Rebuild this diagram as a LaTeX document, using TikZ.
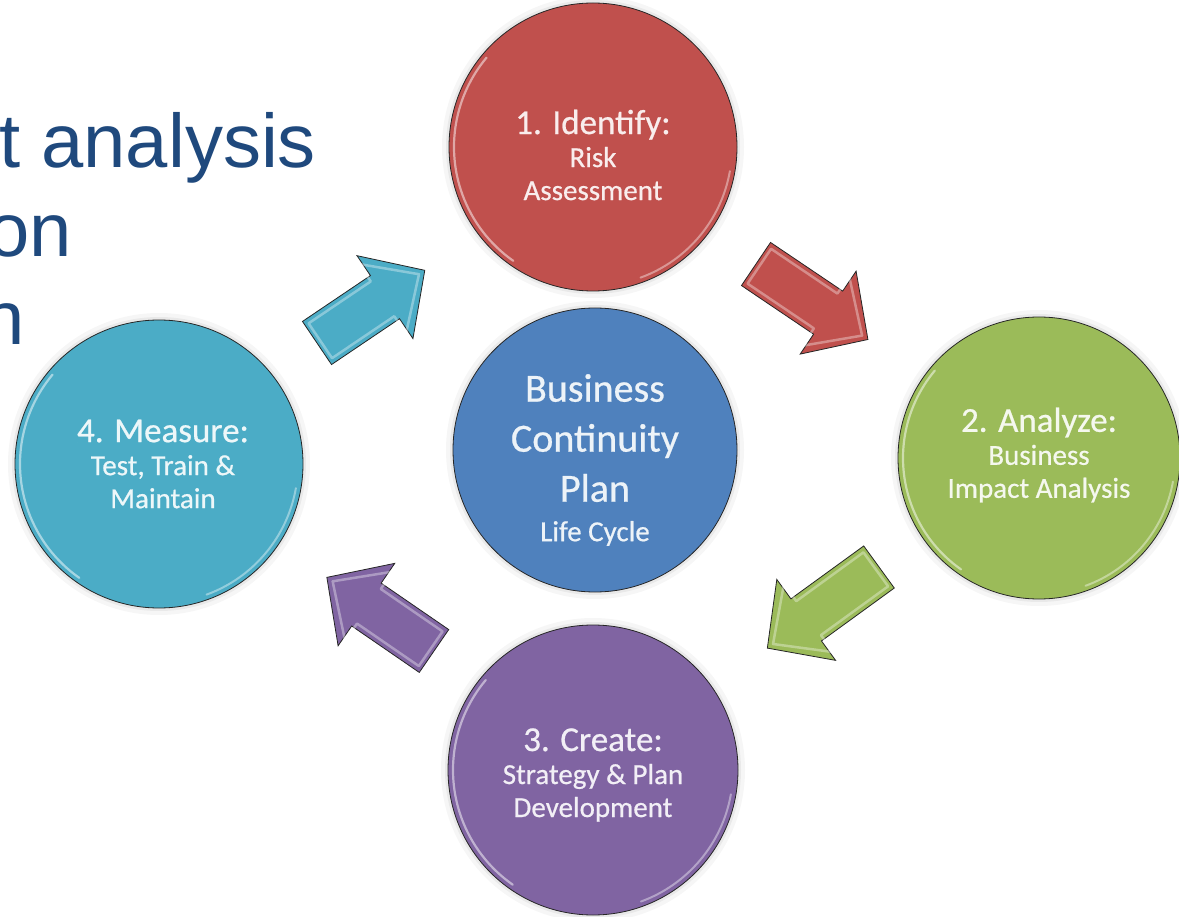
\documentclass[tikz,border=0pt]{standalone}
\usepackage{fontspec}
\setmainfont{Carlito}
\newfontfamily\bubblefont{Carlito}[FakeBold=0.6]
\newfontfamily\arialfont{Liberation Sans}
\definecolor{cred}{HTML}{C0504D}
\definecolor{cgreen}{HTML}{9BBB59}
\definecolor{cpurple}{HTML}{8064A2}
\definecolor{ccyan}{HTML}{4BACC6}
\definecolor{cblue}{HTML}{4F81BD}
\definecolor{titleblue}{HTML}{1F497D}
\newcommand\bubblebevel[2]{%
  \begin{scope}[shift={(#1.center)}, x=1pt, y=1pt]
    \draw[white, opacity=0.5, line width=2.2pt, line cap=round] (140:#2) arc[start angle=140, end angle=235, radius=#2];
    \draw[white, opacity=0.4, line width=2pt, line cap=round] (290:#2) arc[start angle=290, end angle=350, radius=#2];
  \end{scope}}
\newcommand\bubbleglow[2]{%
  \fill[black, opacity=0.035] (#1) circle[radius=#2+7pt];
  \fill[black, opacity=0.05] (#1) circle[radius=#2+3pt];}
\begin{document}
\begin{tikzpicture}[x=1pt, y=-1pt,
  bubble/.style={circle, draw=black!85, line width=0.8pt, inner sep=0pt},
  bubbletext/.style={align=center, inner sep=0pt, font=\bubblefont\fontsize{29}{33}\selectfont},
  sidetext/.style={anchor=base west, inner sep=0pt, text=titleblue, font=\arialfont\fontsize{76}{76}\selectfont},
  pics/blockarrow/.style={code={
    \path[pic actions] (0,-26) -- ({#1-48},-26) -- ({#1-48},-50) -- (#1,0) -- ({#1-48},50) -- ({#1-48},26) -- (0,26) -- cycle;
    \draw[white, opacity=0.35, line width=2.5pt, line join=round] (4,-21) -- ({#1-51},-21) -- ({#1-51},-42) -- ({#1-7},0) -- ({#1-51},42) -- ({#1-51},21) -- (4,21) -- cycle;
  }},
  arrowstyle/.style={draw=black!85, line width=0.8pt, line join=miter}
]
\useasboundingbox (0,0) rectangle (1179,917);
\fill[white] (0,0) rectangle (1179,917);

% cut-off heading text (as the reference shows it)
\node[sidetext] (side1) at (-1,168) {t analysis};
\node[sidetext] (side2) at (-13,257) {on};
\node[sidetext] (side3) at (-18,345) {n};

% circle centres
\coordinate (p1) at (593,147);
\coordinate (p2) at (1039,458);
\coordinate (p3) at (593,770);
\coordinate (p4) at (159,464);
\coordinate (p0) at (595,450);

\bubbleglow{p1}{144pt}
\bubbleglow{p2}{141pt}
\bubbleglow{p3}{145pt}
\bubbleglow{p4}{144pt}
\bubbleglow{p0}{142pt}

\node[bubble, fill=cred, minimum size=288pt] (identify) at (p1) {};
\node[bubble, fill=cgreen, minimum size=282pt] (analyze) at (p2) {};
\node[bubble, fill=cpurple, minimum size=290pt] (create) at (p3) {};
\node[bubble, fill=ccyan, minimum size=288pt] (measure) at (p4) {};
\node[bubble, fill=cblue, minimum size=284pt] (bcp) at (p0) {};

\bubblebevel{identify}{139}
\bubblebevel{analyze}{136}
\bubblebevel{create}{140}
\bubblebevel{measure}{139}

\node[bubbletext, text=white!90!cred] (identify-text) at ([yshift=-8pt]identify.center)
  {{\fontsize{35}{35}\selectfont 1. Identify:}\\Risk\\Assessment};
\node[bubbletext, text=white!90!cgreen] (analyze-text) at ([yshift=3pt]analyze.center)
  {{\fontsize{35}{35}\selectfont 2. Analyze:}\\Business\\Impact Analysis};
\node[bubbletext, text=white!90!cpurple] (create-text) at ([yshift=-5pt]create.center)
  {{\fontsize{35}{35}\selectfont 3. Create:}\\Strategy \& Plan\\Development};
\node[bubbletext, text=white!90!ccyan] (measure-text) at ([xshift=4pt]measure.center)
  {{\fontsize{35}{35}\selectfont 4. Measure:}\\Test, Train \&\\Maintain};
\node[bubbletext, text=white!90!cblue, font=\bubblefont\fontsize{40}{50}\selectfont] (bcp-text) at ([yshift=-10pt]bcp.center)
  {Business\\Continuity\\Plan\\[-10.5pt]{\fontsize{29}{33}\selectfont Life Cycle}};

% block arrows
\coordinate (a1) at (317,343);
\coordinate (a2) at (756,264);
\coordinate (a3) at (879,567);
\coordinate (a4) at (434,651);
\pic[arrowstyle, fill=ccyan, rotate=34] (arrow41) at (a1) {blockarrow=130};
\pic[arrowstyle, fill=cred, rotate=-34] (arrow12) at (a2) {blockarrow=135};
\pic[arrowstyle, fill=cgreen, rotate=216] (arrow23) at (a3) {blockarrow=138};
\pic[arrowstyle, fill=cpurple, rotate=145.5] (arrow34) at (a4) {blockarrow=130};
\end{tikzpicture}
\end{document}
